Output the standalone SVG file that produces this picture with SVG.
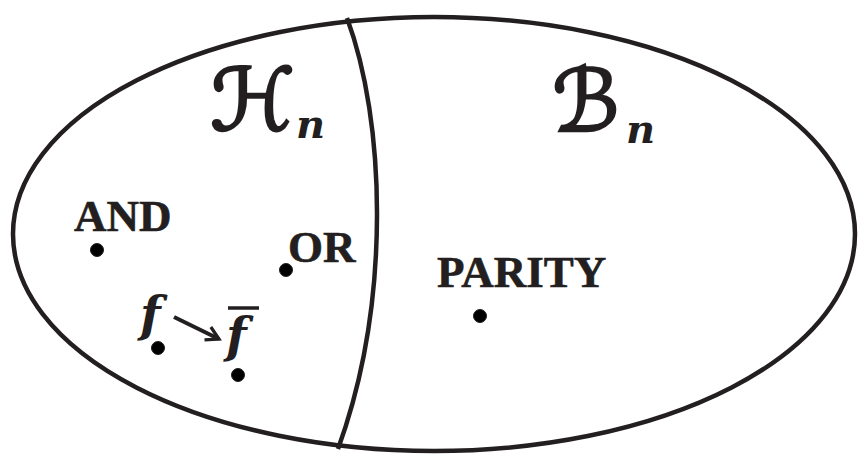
<svg xmlns="http://www.w3.org/2000/svg" width="859" height="459" viewBox="0 0 859 459">
<style>
.outline{fill:none;stroke:#231f20;stroke-width:4.5}
.lbl{font-family:"Liberation Serif",serif;font-weight:bold;font-size:45px;fill:#231f20;stroke:#231f20;stroke-width:0.6}
.it{font-family:"DejaVu Serif","Liberation Serif",serif;font-weight:bold;font-style:italic;fill:#231f20}
.scr{font-family:"DejaVu Serif","DejaVu Sans",serif;font-style:italic;font-size:86px;fill:#231f20}
.scrg{stroke:#231f20;stroke-width:2.5}
.sub{font-family:"DejaVu Serif","Liberation Serif",serif;font-weight:bold;font-size:40px;stroke:none}
.dot{fill:#000;stroke:#231f20;stroke-width:1}
</style>
<defs>
<marker id="ah" viewBox="0 0 10 10" refX="8" refY="5" markerWidth="4.5" markerHeight="4.5" orient="auto" markerUnits="strokeWidth">
<path d="M1,1 L8,5 L1,9" fill="none" stroke="#231f20" stroke-width="1.8"/>
</marker>
</defs>
<g id="universe">
<ellipse class="outline" cx="434" cy="234" rx="421" ry="217"/>
<path class="outline" d="M347,18 C385,120 392,300 338,449"/>
</g>
<g id="H_n">
<text class="scr" x="210" y="130"><tspan class="scrg">ℋ</tspan><tspan class="sub" x="296" y="138">n</tspan></text>
</g>
<g id="B_n">
<text class="scr" x="552" y="131"><tspan class="scrg">ℬ</tspan><tspan class="sub" x="626" y="143">n</tspan></text>
</g>
<g id="AND">
<text class="lbl" x="74" y="231">AND</text>
<circle class="dot" cx="97" cy="250" r="6.5"/>
</g>
<g id="OR">
<text class="lbl" x="288" y="262">OR</text>
<circle class="dot" cx="286" cy="270" r="6.5"/>
</g>
<g id="PARITY">
<text class="lbl" x="437" y="287">PARITY</text>
<circle class="dot" cx="480" cy="316" r="6.5"/>
</g>
<g id="f">
<text class="it" x="140" y="331" font-size="48">f</text>
<circle class="dot" cx="158" cy="348" r="6.5"/>
</g>
<g id="fbar">
<text class="it" x="226" y="352" font-size="48">f</text>
<line x1="228" y1="308" x2="259" y2="308" stroke="#231f20" stroke-width="3.5"/>
<circle class="dot" cx="238" cy="375" r="6.5"/>
</g>
<g id="connectors">
<line x1="174" y1="317" x2="219" y2="339" stroke="#231f20" stroke-width="4" marker-end="url(#ah)"/>
</g>
</svg>
